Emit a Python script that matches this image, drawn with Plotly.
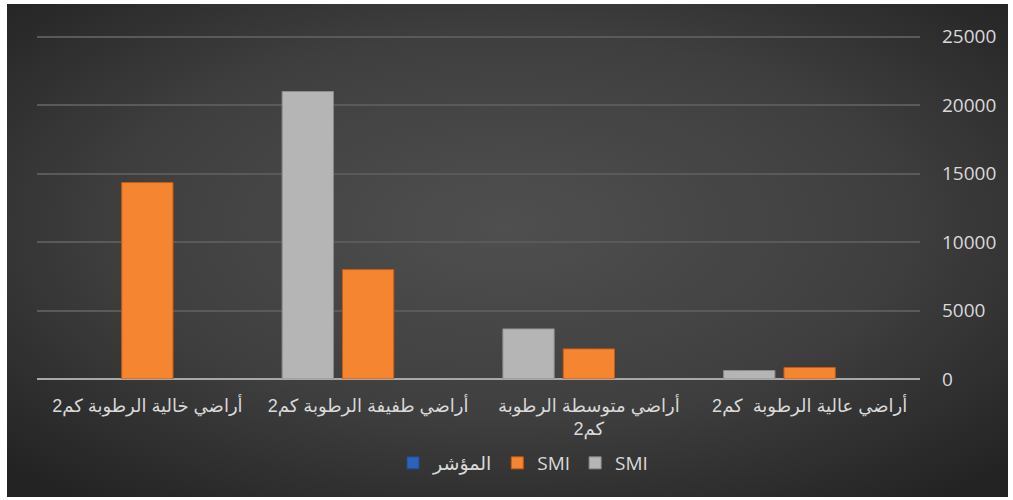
import base64
import plotly.graph_objects as go

categories = [
    "أراضي عالية الرطوبة  كم2",
    "أراضي متوسطة الرطوبة كم2",
    "أراضي طفيفة الرطوبة كم2",
    "أراضي خالية الرطوبة كم2",
]
tick_labels = [
    "أراضي عالية الرطوبة  كم2",
    "أراضي متوسطة الرطوبة<br>كم2",
    "أراضي طفيفة الرطوبة كم2",
    "أراضي خالية الرطوبة كم2",
]
series_names = ["المؤشر", "SMI", "SMI"]
index_values = [None, None, None, None]
smi_orange = [840, 2200, 7990, 14350]
smi_gray = [620, 3660, 21000, None]
y_ticks = [0, 5000, 10000, 15000, 20000, 25000]

W, H = 1013, 500
L, R, T, B = 37, 93, 34, 121
pw, ph = W - L - R, H - T - B

svg = (
    '<svg xmlns="http://www.w3.org/2000/svg" width="1001" height="493" preserveAspectRatio="none">'
    '<defs><radialGradient id="g" cx="50%" cy="45%" r="70%">'
    '<stop offset="0" stop-color="#4f4f4f"/><stop offset="0.55" stop-color="#3f3f3f"/>'
    '<stop offset="1" stop-color="#232323"/></radialGradient></defs>'
    '<rect width="1001" height="493" fill="url(#g)"/></svg>'
)
bg_uri = "data:image/svg+xml;base64," + base64.b64encode(svg.encode()).decode()

text_color = "#d9d9d9"
fig = go.Figure()
fig.add_trace(go.Bar(
    x=categories, y=index_values, name=series_names[0],
    marker=dict(color="#2e62b8", line=dict(color="#1f4a90", width=1)),
))
fig.add_trace(go.Bar(
    x=categories, y=smi_orange, name=series_names[1],
    marker=dict(color="#f58530", line=dict(color="#c65b12", width=1)),
))
fig.add_trace(go.Bar(
    x=categories, y=smi_gray, name=series_names[2],
    marker=dict(color="#b5b5b5", line=dict(color="#8c8c8c", width=1)),
))

fig.update_layout(
    width=W, height=H,
    margin=dict(l=L, r=R, t=T, b=B, pad=0),
    paper_bgcolor="white",
    plot_bgcolor="rgba(0,0,0,0)",
    barmode="group",
    bargap=0.18,
    bargroupgap=0.15,
    font=dict(family="Liberation Sans, DejaVu Sans, Arial", color=text_color, size=18),
    showlegend=True,
    legend=dict(
        orientation="h", x=(523 - L) / pw, xanchor="center",
        y=(H - B - 463) / ph, yanchor="middle",
        font=dict(family="Open Sans, DejaVu Sans", size=19, color=text_color),
        bgcolor="rgba(0,0,0,0)", traceorder="normal",
    ),
    images=[dict(
        source=bg_uri, xref="paper", yref="paper",
        x=(7 - L) / pw, y=(H - B - 4) / ph,
        sizex=1001 / pw, sizey=493 / ph,
        xanchor="left", yanchor="top", sizing="stretch", layer="below",
    )],
)
fig.update_xaxes(
    type="category", autorange="reversed",
    tickmode="array", tickvals=categories, ticktext=tick_labels,
    showgrid=False, showline=False, ticks="",
    tickfont=dict(family="Liberation Sans, DejaVu Sans, Arial", size=18, color=text_color),
    ticklabelstandoff=14,
)
fig.update_yaxes(
    side="right", range=[0, 25200], tickmode="array", tickvals=y_ticks,
    tickformat="d", showgrid=True, gridcolor="#5a5a5a", gridwidth=1.5,
    zeroline=True, zerolinecolor="#a8a8a8", zerolinewidth=2,
    showline=False, ticks="",
    tickfont=dict(family="Open Sans, DejaVu Sans", size=19, color=text_color),
    ticklabelstandoff=21,
)

fig.write_html("out.html")
